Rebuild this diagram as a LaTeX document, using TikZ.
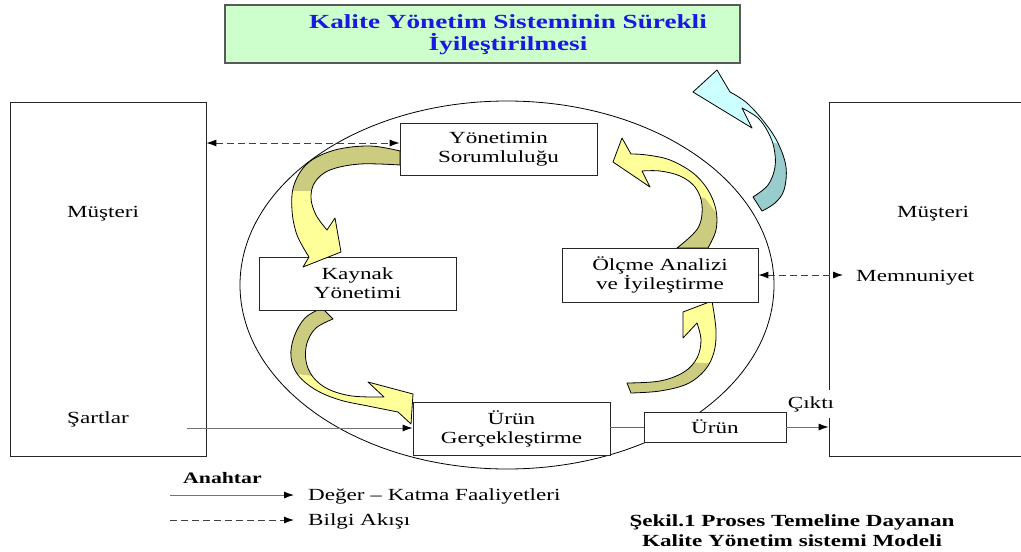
\documentclass[tikz,border=0pt]{standalone}
\usepackage{fontspec}
\setmainfont{Liberation Serif}[FakeStretch=1.36]
\usetikzlibrary{arrows.meta,calc}

\definecolor{titlegreen}{HTML}{CCFFCC}
\definecolor{titleblue}{RGB}{25,25,225}
\definecolor{ribbonyellow}{HTML}{FFFF99}
\definecolor{ribbonolive}{HTML}{CCCC80}
\definecolor{ribboncyan}{HTML}{CCFFFF}
\definecolor{ribbonteal}{HTML}{99CCCC}

\tikzset{
  txt/.style={font=\fontsize{17}{19}\selectfont, inner sep=0pt},
  procbox/.style={draw=black!85, line width=0.8pt, fill=white, align=center,
    inner sep=0pt, font=\fontsize{17}{19}\selectfont},
  sidebox/.style={draw=black!85, line width=0.8pt, fill=white, inner sep=0pt,
    minimum width=196pt, minimum height=354pt},
  ribbon/.style={draw=black, line width=0.8pt, line join=round},
  flow/.style={draw=black!55, line width=0.9pt,
    arrows={-Latex[length=10pt,width=7pt,color=black]}},
  info/.style={draw=black!75, line width=0.9pt, dash pattern=on 7pt off 4pt},
  infoboth/.style={info,
    arrows={Latex[length=10pt,width=7pt,color=black]-Latex[length=10pt,width=7pt,color=black]}},
  infoone/.style={info, arrows={-Latex[length=10pt,width=7pt,color=black]}}
}

% outlines of the curved ribbon arrows
\def\ribbonA{plot[smooth, tension=0.6] coordinates {(400,151) (370,146) (335,150) (308,163) (294,185) (292,210) (297,235) (309,257)}
  -- (303,267) -- (341,252) -- (335,218) -- (327,230)
  -- plot[smooth, tension=0.6] coordinates {(327,230) (316,215) (311,198) (315,182) (330,170) (360,164) (400,165)} -- cycle}
\def\ribbonB{plot[smooth, tension=0.6] coordinates {(322,308) (305,318) (294,337) (291,357) (298,375) (316,390) (340,400) (368,406) (398,412)}
  -- (411,424) -- (413,394) -- (368,382) -- (384,397)
  -- plot[smooth, tension=0.6] coordinates {(384,397) (352,396) (328,389) (313,377) (306,361) (307,343) (316,328) (333,319)} -- cycle}
\def\ribbonC{plot[smooth, tension=0.6] coordinates {(631,393) (660,391) (687,384) (705,370) (714,352) (716,330) (712,301)}
  -- (683,312) -- (683,338) -- (697,323)
  -- plot[smooth, tension=0.6] coordinates {(697,323) (701,340) (697,358) (684,372) (660,381) (627,383)} -- cycle}
\def\ribbonD{plot[smooth, tension=0.6] coordinates {(708,248) (716,230) (716,210) (708,190) (693,173) (670,160) (647,155) (631,154)}
  -- (622,138) -- (613,162) -- (650,187) -- (642,171)
  -- plot[smooth, tension=0.6] coordinates {(642,171) (660,171) (680,176) (695,187) (702,205) (698,228) (677,248)} -- cycle}
\def\ribbonE{plot[smooth, tension=0.6] coordinates {(730,92) (747,103) (765,123) (778,143) (786,167) (784,190) (775,203) (762,211)}
  -- (753,197)
  -- plot[smooth, tension=0.6] coordinates {(753,197) (768,185) (775,167) (774,148) (768,132) (758,118) (742,108)}
  -- (752,128) -- (693,92) -- (717,70) -- cycle}

\begin{document}
\begin{tikzpicture}[x=1pt, y=-1pt]
  \path[use as bounding box] (0,0) rectangle (1021,552);
  \clip (0,0) rectangle (1021,552);
  \fill[white] (0,0) rectangle (1021,552);

  % title banner
  \node[draw=black!65, line width=1.6pt, fill=titlegreen, inner sep=0pt,
        minimum width=515pt, minimum height=58pt] (title) at (482.5,34) {};
  \node[font=\bfseries\fontsize{20}{22}\selectfont, text=titleblue, align=center, inner sep=0pt]
        (titletext) at (508,34.3) {Kalite Yönetim Sisteminin Sürekli\\İyileştirilmesi};

  % customer boxes
  \node[sidebox] (custL) at (108,279) {};
  \node[sidebox] (custR) at (927,279) {};

  % process loop
  \draw[line width=0.8pt] (507,285) ellipse [x radius=267, y radius=184];

  % ribbons drawn beneath the process boxes
  \fill[ribbonyellow] \ribbonB;
  \begin{scope}
    \clip (250,290) -- (360,290) -- (360,382) -- (250,368) -- cycle;
    \fill[ribbonolive] \ribbonB;
  \end{scope}
  \draw[ribbon] \ribbonB;

  \fill[ribbonyellow] \ribbonC;
  \begin{scope}
    \clip (600,358) -- (725,364) -- (725,400) -- (600,400) -- cycle;
    \fill[ribbonolive] \ribbonC;
  \end{scope}
  \draw[ribbon] \ribbonC;

  \fill[ribbonyellow] \ribbonD;
  \begin{scope}
    \clip (650,190) -- (705,198) -- (725,225) -- (725,260) -- (650,260) -- cycle;
    \fill[ribbonolive] \ribbonD;
  \end{scope}
  \draw[ribbon] \ribbonD;

  \fill[ribboncyan] \ribbonE;
  \begin{scope}
    \clip (740,136) -- (800,148) -- (800,220) -- (740,220) -- cycle;
    \fill[ribbonteal] \ribbonE;
  \end{scope}
  \draw[ribbon] \ribbonE;

  % process boxes
  \node[procbox, minimum width=197pt, minimum height=52pt] (yon) at (498.5,149) {Yönetimin\\Sorumluluğu};
  \node[procbox, minimum width=197pt, minimum height=53pt] (kay) at (357.5,283.5) {Kaynak\\Yönetimi};
  \node[procbox, minimum width=196pt, minimum height=54pt] (olc) at (660,275) {Ölçme Analizi\\ve İyileştirme};
  \node[procbox, minimum width=197pt, minimum height=53pt] (urg) at (511.5,428.5) {Ürün\\Gerçekleştirme};
  \node[procbox, minimum width=142pt, minimum height=30pt] (urun) at (715,427) {Ürün};

  % ribbon drawn over the resource box
  \fill[ribbonyellow] \ribbonA;
  \begin{scope}
    \clip (250,100) rectangle (410,190);
    \fill[ribbonolive] \ribbonA;
  \end{scope}
  \draw[ribbon] \ribbonA;

  % labels of the customer boxes
  \node[txt, anchor=base] (musL) at (103,217) {Müşteri};
  \node[txt, anchor=base] (sart) at (98,423) {Şartlar};
  \node[txt, anchor=base] (musR) at (933,217) {Müşteri};
  \node[txt, anchor=base west] (memn) at (856,281) {Memnuniyet};
  \node[txt, anchor=base, fill=white, inner xsep=1pt, inner ysep=6pt] (cikti) at (811,408) {Çıktı};

  % information flows
  \coordinate (infoTop) at (0,143);
  \draw[infoboth] (custL.east |- infoTop) -- (yon.west |- infoTop);
  \draw[infoboth] (olc.east) -- ($(memn.west |- olc.east)+(-13,0)$);

  % value-adding flows
  \coordinate (sartStart) at (187,428);
  \draw[flow] (sartStart) -- (urg.west |- sartStart);
  \draw[draw=black!60, line width=0.9pt] (urg.east |- urun.west) -- (urun.west);
  \draw[flow] (urun.east) -- (custR.west |- urun.east);

  % key
  \node[txt, font=\bfseries\fontsize{16}{18}\selectfont, anchor=base west] (key) at (183,483) {Anahtar};
  \node[txt, anchor=base west] (keyVal) at (308,500) {Değer – Katma Faaliyetleri};
  \node[txt, anchor=base west] (keyInfo) at (308,525) {Bilgi Akışı};
  \coordinate (keyValStart) at (170,495);
  \coordinate (keyInfoStart) at (170,520);
  \draw[flow] (keyValStart) -- ($(keyValStart -| keyVal.west)+(-14,0)$);
  \draw[infoone] (keyInfoStart) -- ($(keyInfoStart -| keyInfo.west)+(-14,0)$);

  % caption
  \node[font=\bfseries\fontsize{17}{20}\selectfont, align=center, inner sep=0pt]
        (caption) at (792,531) {Şekil.1 Proses Temeline Dayanan\\Kalite Yönetim sistemi Modeli};
\end{tikzpicture}
\end{document}
